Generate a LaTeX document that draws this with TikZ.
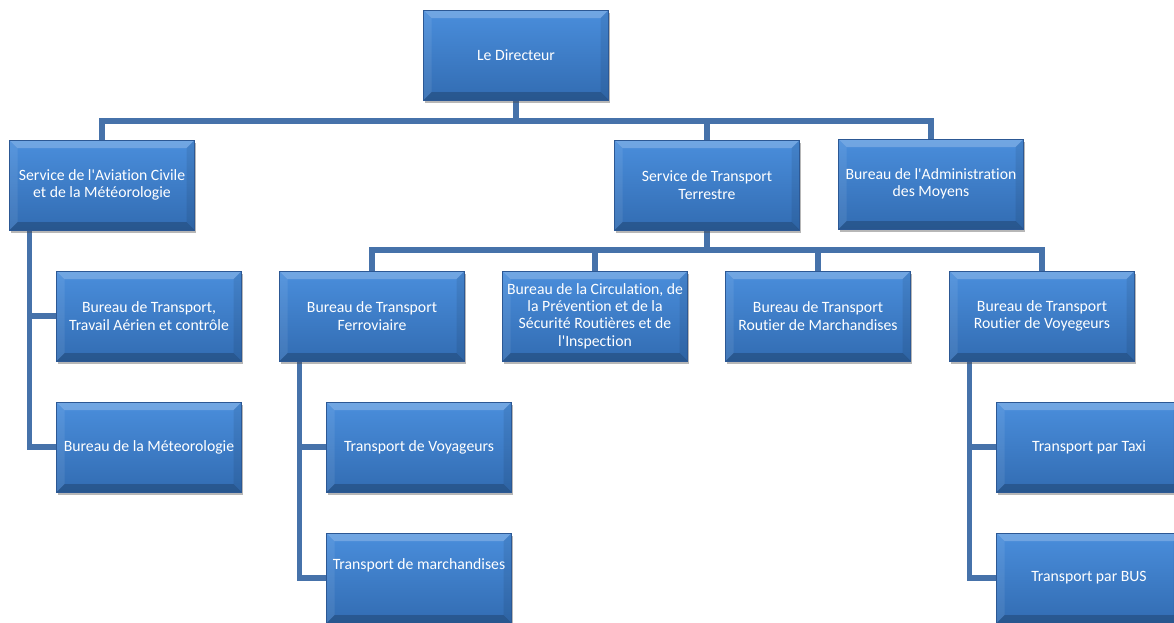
\documentclass[tikz,border=0pt]{standalone}
\usepackage{fontspec}
\setmainfont{Carlito}[Ligatures={NoCommon}]
\usetikzlibrary{shadows,backgrounds}

\definecolor{boxtop}{RGB}{74,142,220}
\definecolor{boxbot}{RGB}{50,108,178}
\definecolor{boxedge}{RGB}{44,88,148}
\definecolor{linkblue}{RGB}{70,114,170}

\begin{document}
\begin{tikzpicture}[x=0.75pt, y=-0.75pt,
  box/.style={rectangle, minimum width=138.75pt, minimum height=67.5pt, inner sep=1pt,
    align=center, text=white, font=\fontsize{11.8}{13.1}\selectfont,
    top color=boxtop, bottom color=boxbot, draw=boxedge, line width=0.4pt,
    drop shadow={shadow xshift=1.2pt, shadow yshift=-2.2pt, opacity=0.4, fill=black!70},
    path picture={
      \fill[white, opacity=0.22] (path picture bounding box.north west) -- (path picture bounding box.north east)
        -- ([xshift=-6pt, yshift=-6pt]path picture bounding box.north east) -- ([xshift=6pt, yshift=-6pt]path picture bounding box.north west) -- cycle;
      \fill[black, opacity=0.20] (path picture bounding box.south west) -- (path picture bounding box.south east)
        -- ([xshift=-6pt, yshift=6pt]path picture bounding box.south east) -- ([xshift=6pt, yshift=6pt]path picture bounding box.south west) -- cycle;
      \fill[black, opacity=0.08] (path picture bounding box.north east) -- (path picture bounding box.south east)
        -- ([xshift=-6pt, yshift=6pt]path picture bounding box.south east) -- ([xshift=-6pt, yshift=-6pt]path picture bounding box.north east) -- cycle;
      \fill[white, opacity=0.08] (path picture bounding box.north west) -- (path picture bounding box.south west)
        -- ([xshift=6pt, yshift=6pt]path picture bounding box.south west) -- ([xshift=6pt, yshift=-6pt]path picture bounding box.north west) -- cycle;
    }},
  link/.style={draw=linkblue, line width=3.8pt}]
  \useasboundingbox (0,0) rectangle (1174,622);
  \clip (0,0) rectangle (1174,622);
  \coordinate (bus1) at (516,121);
  \coordinate (bus2) at (707,250);
  % ---------------------------------------------------------------- level 0 and 1
  \node[box] (dir)   at (516,55)  {Le Directeur};
  \node[box] (avia)  at (102,185) {Service de l\textquotesingle Aviation Civile\\et de la Météorologie};
  \node[box] (terre) at (707,185) {Service de Transport\\Terrestre};
  \node[box] (admin) at (931,184) {Bureau de l\textquotesingle Administration\\des Moyens};
  % ---------------------------------------------------------------- level 2
  \node[box] (btta)  at (149,316) {Bureau de Transport,\\Travail Aérien et contrôle};
  \node[box] (ferro) at (372,316) {Bureau de Transport\\Ferroviaire};
  \node[box] (circ)  at (595,316) {Bureau de la Circulation, de\\la Prévention et de la\\Sécurité Routières et de\\l\textquotesingle Inspection};
  \node[box] (rmar)  at (818,316) {Bureau de Transport\\Routier de Marchandises};
  \node[box] (rvoy)  at (1042,316) {Bureau de Transport\\Routier de Voyegeurs};
  % ---------------------------------------------------------------- level 3
  \node[box] (meteo) at (149,447)  {Bureau de la Méteorologie};
  \node[box] (tvoy)  at (419,447)  {Transport de Voyageurs};
  \node[box] (tmar)  at (419,578)  {\raisebox{6.5pt}[0pt][0pt]{Transport de marchandises}};
  \node[box] (taxi)  at (1089,447) {Transport par Taxi};
  \node[box] (bus)   at (1089,578) {Transport par BUS};
  % ---------------------------------------------------------------- connectors, under the boxes
  \begin{pgfonlayer}{background}
    \draw[link] (dir.south) -- (bus1);
    \foreach \n in {avia,terre,admin}
      \draw[link] (bus1) -| (\n.north);
    \draw[link] (terre.south) -- (bus2);
    \foreach \n in {ferro,circ,rmar,rvoy}
      \draw[link] (bus2) -| (\n.north);
    % the side spines
    \foreach \p/\a/\b in {avia/btta/meteo, ferro/tvoy/tmar, rvoy/taxi/bus} {
      \coordinate (sp) at ([xshift=15pt]\p.south west);
      \draw[link] (sp) |- (\b.west);
      \draw[link] (sp |- \a.west) -- (\a.west);
    }
  \end{pgfonlayer}
\end{tikzpicture}
\end{document}
